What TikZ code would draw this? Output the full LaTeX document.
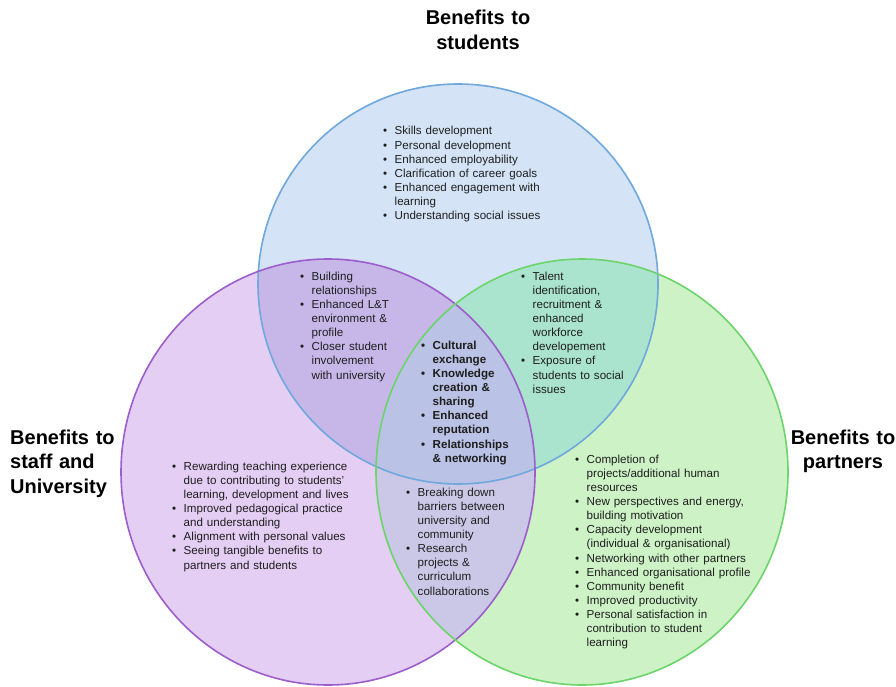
\documentclass[tikz,border=0pt]{standalone}
\usepackage{fontspec}
\setmainfont{Liberation Sans}

% fills of the single regions and of the overlaps
\definecolor{fillS}{HTML}{D4E4F6}
\definecolor{fillU}{HTML}{E4CEF3}
\definecolor{fillP}{HTML}{CDF2C6}
\definecolor{fillSU}{HTML}{C6B7E8}
\definecolor{fillSP}{HTML}{AAE4CE}
\definecolor{fillUP}{HTML}{CAC8E6}
\definecolor{fillall}{HTML}{BAC2E5}
% outlines
\definecolor{lineS}{HTML}{6FA8DC}
\definecolor{lineU}{HTML}{9C5ECA}
\definecolor{lineP}{HTML}{6CD46B}
\definecolor{ink}{HTML}{1E1E1E}

% the three sets
\newcommand\ringS{(458,284) circle [radius=200]}
\newcommand\ringU{(328,472) ellipse [x radius=207, y radius=213]}
\newcommand\ringP{(582,472) ellipse [x radius=206, y radius=213]}

% one bulleted entry with a hanging indent
\newcommand\bpoint[1]{\hangindent=11.5pt\hangafter=1\noindent\makebox[11.5pt][l]{\textbullet}#1\par}

\begin{document}
\begin{tikzpicture}[x=1pt,y=-1pt,
  ring/.style={line width=1.6pt},
  heading/.style={font=\fontsize{20}{24.5}\selectfont\bfseries, inner sep=0pt, text width=170pt},
  items/.style={font=\fontsize{11.6}{14.15}\selectfont, text=ink, inner sep=0pt,
                anchor=base west, text width=300pt, align=left}]
\useasboundingbox (0,0) rectangle (896,687);
\fill[white] (0,0) rectangle (896,687);

% region fills
\fill[fillS] \ringS;
\fill[fillU] \ringU;
\fill[fillP] \ringP;
\begin{scope}\clip \ringS; \fill[fillSU] \ringU;\end{scope}
\begin{scope}\clip \ringS; \fill[fillSP] \ringP;\end{scope}
\begin{scope}\clip \ringU; \fill[fillUP] \ringP;\end{scope}
\begin{scope}\clip \ringS; \clip \ringU; \fill[fillall] \ringP;\end{scope}

% outlines
\draw[ring, lineS] \ringS;
\draw[ring, lineU] \ringU;
\draw[ring, lineP] \ringP;

% headings
\node[heading, align=center, anchor=base] (hS) at (478,25) {Benefits to\\students};
\node[heading, align=left, anchor=base west] (hU) at (10,444) {Benefits to\\staff and\\University};
\node[heading, align=center, anchor=base] (hP) at (843,444) {Benefits to\\partners};

% students only
\node[items] (lS) at (383,135) {%
\bpoint{Skills development}
\bpoint{Personal development}
\bpoint{Enhanced employability}
\bpoint{Clarification of career goals}
\bpoint{Enhanced engagement with\newline learning}
\bpoint{Understanding social issues}};

% students and university
\node[items] (lSU) at (300,280) {%
\bpoint{Building\newline relationships}
\bpoint{Enhanced L\&T\newline environment \&\newline profile}
\bpoint{Closer student\newline involvement\newline with university}};

% students and partners
\node[items] (lSP) at (521,280) {%
\bpoint{Talent\newline identification,\newline recruitment \&\newline enhanced\newline workforce\newline developement}
\bpoint{Exposure of\newline students to social\newline issues}};

% all three
\node[items, font=\fontsize{11.6}{14.15}\selectfont\bfseries] (lall) at (421,349) {%
\bpoint{Cultural\newline exchange}
\bpoint{Knowledge\newline creation \&\newline sharing}
\bpoint{Enhanced\newline reputation}
\bpoint{Relationships\newline \& networking}};

% university only
\node[items] (lU) at (172,470) {%
\bpoint{Rewarding teaching experience\newline due to contributing to students'\newline learning, development and lives}
\bpoint{Improved pedagogical practice\newline and understanding}
\bpoint{Alignment with personal values}
\bpoint{Seeing tangible benefits to\newline partners and students}};

% university and partners
\node[items] (lUP) at (406,496) {%
\bpoint{Breaking down\newline barriers between\newline university and\newline community}
\bpoint{Research\newline projects \&\newline curriculum\newline collaborations}};

% partners only
\node[items] (lP) at (575,463) {%
\bpoint{Completion of\newline projects/additional human\newline resources}
\bpoint{New perspectives and energy,\newline building motivation}
\bpoint{Capacity development\newline (individual \& organisational)}
\bpoint{Networking with other partners}
\bpoint{Enhanced organisational profile}
\bpoint{Community benefit}
\bpoint{Improved productivity}
\bpoint{Personal satisfaction in\newline contribution to student\newline learning}};
\end{tikzpicture}
\end{document}
